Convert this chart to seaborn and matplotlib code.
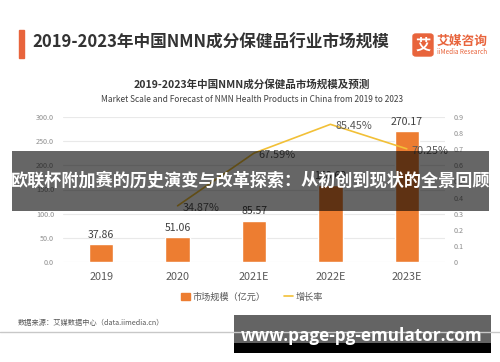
import matplotlib
matplotlib.use("Agg")
import matplotlib.pyplot as plt
from matplotlib.patches import Rectangle, FancyBboxPatch, Patch
from matplotlib.lines import Line2D
import pandas as pd
import seaborn as sns

# data
years = ["2019", "2020", "2021E", "2022E", "2023E"]
market_scale = [37.86, 51.06, 85.57, 158.69, 270.17]
growth_years = ["2020", "2021E", "2022E", "2023E"]
growth_rate = [0.3487, 0.6759, 0.8545, 0.7025]
left_ticks = [0, 50, 100, 150, 200, 250, 300]
left_tick_labels = ["0.0", "50.0", "100.0", "150.0", "200.0", "250.0", "300.0"]
right_ticks = [0, 0.1, 0.2, 0.3, 0.4, 0.5, 0.6, 0.7, 0.8, 0.9]
right_tick_labels = ["0", "0.1", "0.2", "0.3", "0.4", "0.5", "0.6", "0.7", "0.8", "0.9"]
legend_labels = ["市场规模（亿元）", "增长率"]

ORANGE = "#ED7D31"
YELLOW = "#F2C037"
BRAND = "#E8643C"

W, H = 500, 362

def fx(x):
    return x / W

def fy(y):
    return 1 - y / H

sns.set_theme(style="white")
plt.rcParams["font.family"] = ["Noto Sans CJK SC", "DejaVu Sans"]

fig = plt.figure(figsize=(5, 3.62), dpi=100)
fig.patch.set_facecolor("white")

# ---- chart ----
bars_df = pd.DataFrame({"year": years, "scale": market_scale})
ax = fig.add_axes([fx(63), fy(262), fx(445) - fx(63), (262 - 117) / H])
sns.barplot(data=bars_df, x="year", y="scale", color=ORANGE, saturation=1,
            width=0.32, ax=ax)
ax.set_xlim(-0.5, len(years) - 0.5)
ax.set_ylim(0, 300)
ax.set_yticks(left_ticks, left_tick_labels)
ax.set_xlabel("")
ax.set_ylabel("")
ax.grid(axis="y", color="#E9E9E9", lw=0.8)
ax.set_axisbelow(True)
ax.tick_params(axis="y", labelsize=5.2, colors="#8C8C8C", length=0, pad=6.5)
ax.tick_params(axis="x", labelsize=7.8, colors="#595959", length=0, pad=7)
sns.despine(ax=ax, left=True, bottom=True)
ax.bar_label(ax.containers[0], labels=[f"{v:.2f}" for v in market_scale],
             padding=3, fontsize=7.6, color="#404040")

growth_df = pd.DataFrame({"pos": [years.index(y) for y in growth_years],
                          "rate": growth_rate})
ax2 = ax.twinx()
sns.lineplot(data=growth_df, x="pos", y="rate", color=YELLOW, lw=1.2, ax=ax2)
ax2.set_ylim(0, 0.9)
ax2.set_yticks(right_ticks, right_tick_labels)
ax2.set_ylabel("")
ax2.tick_params(axis="y", labelsize=5.2, colors="#8C8C8C", length=0, pad=6.5)
sns.despine(ax=ax2, left=True, bottom=True, right=True)
for p, r in zip(growth_df["pos"], growth_df["rate"]):
    ax2.annotate(f"{r * 100:.2f}%", (p, r), xytext=(3.5, -1.5),
                 textcoords="offset points", ha="left", va="center",
                 fontsize=7.8, color="#595959")

handles = [Patch(color=ORANGE), Line2D([0], [0], color=YELLOW, lw=1.2)]
fig.legend(handles, legend_labels, loc="center", bbox_to_anchor=(fx(252), fy(297)),
           ncol=2, frameon=False, fontsize=6.6, handlelength=1.0, handleheight=0.8,
           handletextpad=0.3, columnspacing=2.0, labelcolor="#595959")

# chart titles
fig.text(fx(252), fy(84), "2019-2023年中国NMN成分保健品市场规模及预测",
         ha="center", va="center", fontsize=7.6, fontweight="bold", color="#333333")
fig.text(fx(252), fy(100),
         "Market Scale and Forecast of NMN Health Products in China from 2019 to 2023",
         ha="center", va="center", fontsize=6.0, color="#404040")

# ---- page header ----
fig.add_artist(Rectangle((fx(19), fy(58)), fx(24) - fx(19), 28 / H,
                         color=BRAND, transform=fig.transFigure))
fig.text(fx(32), fy(43), "2019-2023年中国NMN成分保健品行业市场规模",
         ha="left", va="center", fontsize=12, fontweight="bold", color="#333333")
fig.add_artist(FancyBboxPatch((fx(413), fy(56)), fx(20), 22 / H,
                              boxstyle="round,pad=0,rounding_size=0.006",
                              color=BRAND, transform=fig.transFigure))
fig.text(fx(423), fy(45), "艾", ha="center", va="center", fontsize=11,
         fontweight="bold", color="white")
fig.text(fx(437), fy(41), "艾媒咨询", ha="left", va="center", fontsize=9.2,
         fontweight="bold", color=BRAND)
fig.text(fx(437), fy(51.5), "iiMedia Research", ha="left", va="center",
         fontsize=4.6, color=BRAND)

# ---- footer ----
fig.text(fx(18), fy(323), "数据来源：艾媒数据中心（data.iimedia.cn）",
         ha="left", va="center", fontsize=5.2, color="#595959")
fig.add_artist(Line2D([0, 1], [fy(332), fy(332)], color="#C8C8C8", lw=1,
                      transform=fig.transFigure))

# ---- overlays ----
fig.add_artist(Rectangle((fx(12), fy(211)), fx(489) - fx(12), 60 / H,
                         color="black", alpha=0.6, lw=0, transform=fig.transFigure))
fig.text(fx(250.5), fy(181), "欧联杯附加赛的历史演变与改革探索：从初创到现状的全景回顾",
         ha="center", va="center", fontsize=12.3, fontweight="bold", color="white")

fig.add_artist(Rectangle((fx(234), fy(343)), fx(491) - fx(234), 28 / H,
                         color="#646464", lw=0, transform=fig.transFigure))
fig.add_artist(Rectangle((fx(234), fy(353)), fx(491) - fx(234), 10 / H,
                         color="black", lw=0, transform=fig.transFigure))
fig.text(fx(362), fy(336), "www.page-pg-emulator.com", ha="center", va="center",
         fontsize=12.3, fontweight="bold", color="white",
         family=["Open Sans", "DejaVu Sans"])

fig.savefig("out.png", dpi=100)
